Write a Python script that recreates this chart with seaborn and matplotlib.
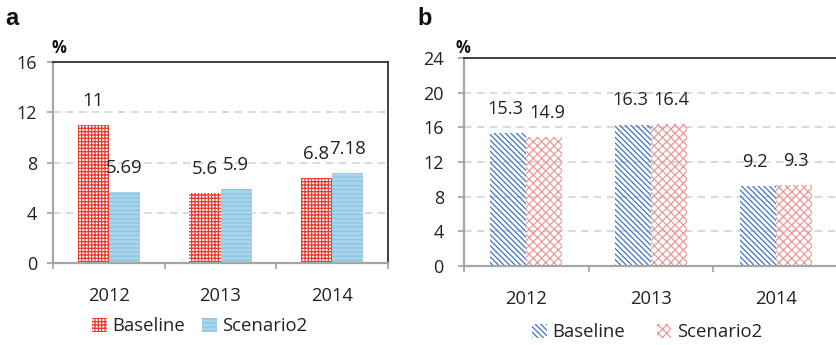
import matplotlib
matplotlib.use("Agg")
import matplotlib.pyplot as plt
import matplotlib.patches as mpatches
import seaborn as sns
import pandas as pd

years = ["2012", "2013", "2014"]
series_names = ["Baseline", "Scenario2"]
a_baseline = [11, 5.6, 6.8]
a_scenario2 = [5.69, 5.9, 7.18]
a_labels_baseline = ["11", "5.6", "6.8"]
a_labels_scenario2 = ["5.69", "5.9", "7.18"]
b_baseline = [15.3, 16.3, 9.2]
b_scenario2 = [14.9, 16.4, 9.3]
b_labels_baseline = ["15.3", "16.3", "9.2"]
b_labels_scenario2 = ["14.9", "16.4", "9.3"]
a_yticks = [0, 4, 8, 12, 16]
b_yticks = [0, 4, 8, 12, 16, 20, 24]

sns.set_theme(style="white")
plt.rcParams["font.family"] = ["Open Sans", "DejaVu Sans"]
plt.rcParams["hatch.linewidth"] = 0.9

W, H = 836, 345
fig = plt.figure(figsize=(W / 100, H / 100), dpi=100)


def px_axes(left, top, right, bottom):
    return fig.add_axes([left / W, 1 - bottom / H, (right - left) / W, (bottom - top) / H])


def make_df(b, s):
    return pd.DataFrame({
        "year": years * 2,
        "series": [series_names[0]] * 3 + [series_names[1]] * 3,
        "value": list(b) + list(s),
    })


def style_axes(ax, yticks, ylabel_pad, show_right=True):
    ax.set_ylim(yticks[0], yticks[-1])
    ax.set_yticks(yticks)
    ax.set_xlim(-0.5, 2.5)
    ax.set_xlabel("")
    ax.set_ylabel("")
    ax.yaxis.grid(True, color="#D0D0D0", linestyle=(0, (5, 3.5)), linewidth=1.1)
    ax.xaxis.grid(False)
    ax.set_axisbelow(True)
    for side in ["left", "bottom"]:
        ax.spines[side].set_color("#A6A6A6")
        ax.spines[side].set_linewidth(1.6)
    ax.spines["top"].set_color("#333333")
    ax.spines["top"].set_linewidth(1.3)
    ax.spines["right"].set_color("#333333")
    ax.spines["right"].set_linewidth(1.3)
    ax.spines["right"].set_visible(show_right)
    ax.tick_params(axis="y", which="major", direction="out", length=4.5, width=1.3,
                   color="#A6A6A6", left=True, pad=ylabel_pad, labelsize=13,
                   labelcolor="#222222")
    ax.tick_params(axis="x", which="major", length=0, pad=17, labelsize=13.2,
                   labelcolor="#222222")
    ax.set_xticks([-0.5, 0.5, 1.5, 2.5], minor=True)
    ax.tick_params(axis="x", which="minor", direction="out", length=4.5, width=1.3,
                   color="#A6A6A6", bottom=True)


# ---------------- Panel a ----------------
ax1 = px_axes(53, 62, 388, 263)
sns.barplot(data=make_df(a_baseline, a_scenario2), x="year", y="value", hue="series",
            hue_order=series_names, width=0.56, gap=0, ax=ax1, legend=False,
            palette=["white", "#A8D4EB"], saturation=1, errorbar=None)
style_axes(ax1, a_yticks, 7)
a_styles = [
    dict(facecolor="white", edgecolor="#E8392F", hatch="+++++"),
    dict(facecolor="#A9D5EC", edgecolor="#8CC3E1", hatch="----"),
]
for cont, st, labs in zip(ax1.containers, a_styles, [a_labels_baseline, a_labels_scenario2]):
    for p in cont:
        p.set_facecolor(st["facecolor"])
        p.set_edgecolor(st["edgecolor"])
        p.set_hatch(st["hatch"])
        p.set_linewidth(0)
    ax1.bar_label(cont, labels=labs, padding=10.5, fontsize=13.4, color="#222222")

# ---------------- Panel b ----------------
ax2 = px_axes(464, 58, 838, 266)
sns.barplot(data=make_df(b_baseline, b_scenario2), x="year", y="value", hue="series",
            hue_order=series_names, width=0.58, gap=0, ax=ax2, legend=False,
            palette=["white", "white"], saturation=1, errorbar=None)
style_axes(ax2, b_yticks, 10, show_right=False)
b_styles = [
    dict(facecolor="none", edgecolor="#3F74C4", hatch="\\\\\\\\\\\\"),
    dict(facecolor="none", edgecolor="#E99A9A", hatch="xxxx"),
]
for i, (cont, st, labs) in enumerate(zip(ax2.containers, b_styles,
                                          [b_labels_baseline, b_labels_scenario2])):
    for p in cont:
        p.set_facecolor(st["facecolor"])
        p.set_edgecolor(st["edgecolor"])
        p.set_hatch(st["hatch"])
        p.set_linewidth(0)
    anns = ax2.bar_label(cont, labels=labs, padding=11, fontsize=13.1, color="#222222")
    shift = -1.8 if i == 0 else 1.8
    for ann in anns:
        ann.xyann = (shift, ann.xyann[1])

# ---------------- Legends ----------------
def legend_handles(styles):
    hs = []
    for st, name in zip(styles, series_names):
        hs.append(mpatches.Patch(facecolor=st["facecolor"], edgecolor=st["edgecolor"],
                                 hatch=st["hatch"], linewidth=0, label=name))
    return hs


fig.legend(handles=legend_handles(a_styles), loc="center", bbox_to_anchor=(200 / W, 1 - 326 / H),
           ncol=2, frameon=False, handlelength=0.8, handleheight=0.8, handletextpad=0.3,
           columnspacing=0.9, fontsize=13.3, labelcolor="#222222")
fig.legend(handles=legend_handles(b_styles), loc="center", bbox_to_anchor=(647 / W, 1 - 332 / H),
           ncol=2, frameon=False, handlelength=0.8, handleheight=0.8, handletextpad=0.3,
           columnspacing=1.7, fontsize=13.3, labelcolor="#222222")

# ---------------- Panel letters and units ----------------
fig.text(5 / W, 1 - 25 / H, "a", fontsize=17, fontweight="bold", family="Liberation Sans",
         va="baseline", ha="left", color="#111111")
fig.text(417 / W, 1 - 25 / H, "b", fontsize=17, fontweight="bold", family="Liberation Sans",
         va="baseline", ha="left", color="#111111")
fig.text(51 / W, 1 - 53 / H, "%", fontsize=12, fontweight="bold", va="baseline", ha="left",
         color="#111111")
fig.text(456 / W, 1 - 53 / H, "%", fontsize=12, fontweight="bold", va="baseline", ha="left",
         color="#111111")

fig.savefig("out.png", dpi=100)
